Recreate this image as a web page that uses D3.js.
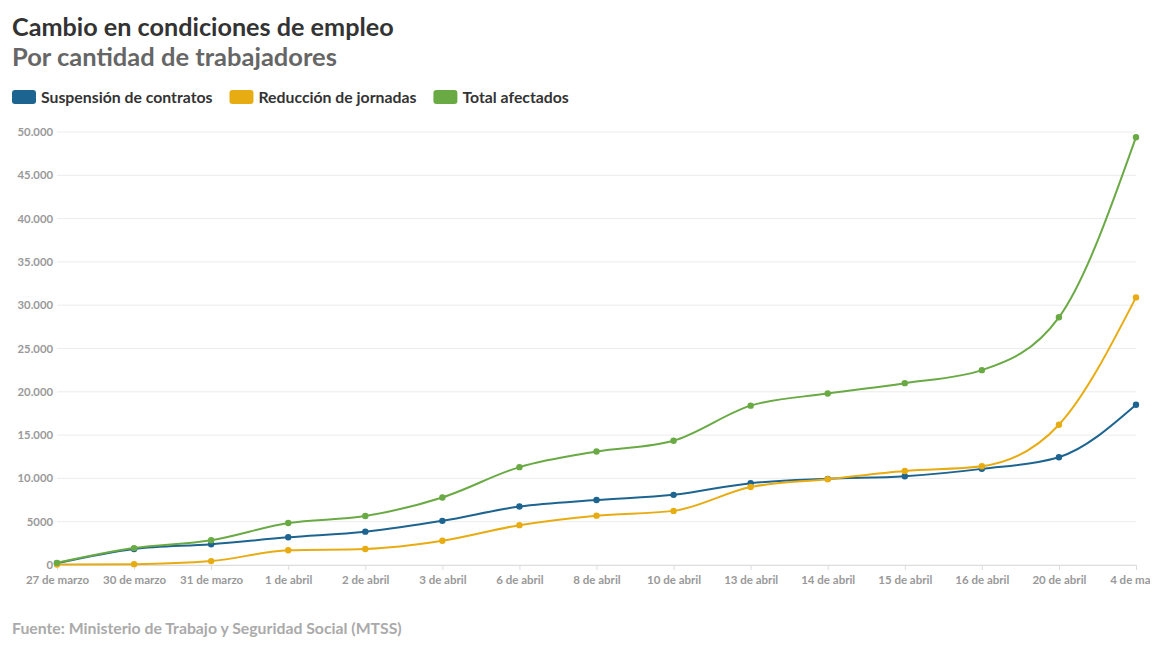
<!DOCTYPE html>
<html>
<head>
<meta charset="utf-8">
<script src="https://cdn.jsdelivr.net/npm/d3@7"></script>
<style>
  body { margin: 0; background: #fff; }
  svg { display: block; font-family: Lato, "Open Sans", sans-serif; }
</style>
</head>
<body>
<script>
// data
const fechas = ["27 de marzo", "30 de marzo", "31 de marzo", "1 de abril", "2 de abril", "3 de abril",
  "6 de abril", "8 de abril", "10 de abril", "13 de abril", "14 de abril", "15 de abril",
  "16 de abril", "20 de abril", "4 de mayo"]
const suspension = [200, 1850, 2400, 3200, 3850, 5100, 6750, 7500, 8100, 9450, 9950, 10250, 11100, 12450, 18500]
const reduccion = [50, 100, 450, 1700, 1850, 2800, 4600, 5700, 6250, 9000, 9900, 10850, 11400, 16200, 30900]
const total = [250, 1950, 2850, 4850, 5650, 7800, 11300, 13100, 14350, 18400, 19800, 21000, 22500, 28600, 49400]
const yTicks = [0, 5000, 10000, 15000, 20000, 25000, 30000, 35000, 40000, 45000, 50000]

const series = [
  {name: "Suspensión de contratos", color: "#1d6490", values: suspension},
  {name: "Reducción de jornadas", color: "#e8ac13", values: reduccion},
  {name: "Total afectados", color: "#6aaa45", values: total}
]

const W = 1150, H = 650
const plotLeft = 57, plotRight = 1136, plotTop = 132, plotBottom = 565

const svg = d3.select("body").append("svg")
  .attr("width", W)
  .attr("height", H)
  .style("overflow", "hidden")

// header
svg.append("text").attr("x", 12).attr("y", 36)
  .text("Cambio en condiciones de empleo")
  .attr("font-size", "25.2px").attr("font-weight", 700).attr("fill", "#333")
svg.append("text").attr("x", 12).attr("y", 66)
  .text("Por cantidad de trabajadores")
  .attr("font-size", "25.5px").attr("font-weight", 700).attr("fill", "#666")

// legend
const legend = svg.append("g").attr("transform", "translate(12,90)")
let lx = 0
series.forEach(s => {
  const g = legend.append("g").attr("transform", `translate(${lx},0)`)
  g.append("rect").attr("width", 24).attr("height", 14).attr("rx", 3).attr("fill", s.color)
  const t = g.append("text").attr("x", 29).attr("y", 12.5)
    .text(s.name).attr("font-size", "15.8px").attr("font-weight", 700).attr("fill", "#333")
  lx += 29 + t.node().getComputedTextLength() + 17
})

// scales
const x = d3.scalePoint().domain(fechas).range([plotLeft, plotRight])
const y = d3.scaleLinear().domain([0, 50000]).range([plotBottom, plotTop])
const fmt = d => d >= 10000 ? d3.format(",")(d).replace(/,/g, ".") : String(d)

// grid + y labels
svg.append("g").selectAll("line").data(yTicks).join("line")
  .attr("x1", plotLeft).attr("x2", plotRight)
  .attr("y1", d => y(d)).attr("y2", d => y(d))
  .attr("stroke", "#ececec").attr("stroke-width", 1)
svg.append("g").selectAll("text").data(yTicks).join("text")
  .attr("x", 53).attr("y", d => y(d) + 4)
  .attr("text-anchor", "end")
  .text(fmt)
  .attr("font-size", "11.3px").attr("font-weight", 700).attr("fill", "#999")

// x axis
const xAxis = svg.append("g").attr("transform", `translate(0,${plotBottom})`)
  .call(d3.axisBottom(x).tickSize(5).tickPadding(6).tickSizeOuter(0))
xAxis.select(".domain").attr("stroke", "#ddd")
xAxis.selectAll(".tick line").attr("stroke", "#ddd")
xAxis.selectAll(".tick text")
  .attr("font-family", "Lato, 'Open Sans', sans-serif")
  .attr("font-size", "11.5px").attr("font-weight", 700).attr("fill", "#999")

// lines
const line = d3.line()
  .x((d, i) => x(fechas[i]))
  .y(d => y(d))
  .curve(d3.curveMonotoneX)

const plot = svg.append("g")
series.forEach(s => {
  plot.append("path").datum(s.values)
    .attr("d", line)
    .attr("fill", "none")
    .attr("stroke", s.color)
    .attr("stroke-width", 2)
  plot.append("g").selectAll("circle").data(s.values).join("circle")
    .attr("cx", (d, i) => x(fechas[i]))
    .attr("cy", d => y(d))
    .attr("r", 3.2)
    .attr("fill", s.color)
})

// source
svg.append("text").attr("x", 12).attr("y", 634)
  .text("Fuente: Ministerio de Trabajo y Seguridad Social (MTSS)")
  .attr("font-size", "15.8px").attr("font-weight", 700).attr("fill", "#aaa")
</script>
</body>
</html>
